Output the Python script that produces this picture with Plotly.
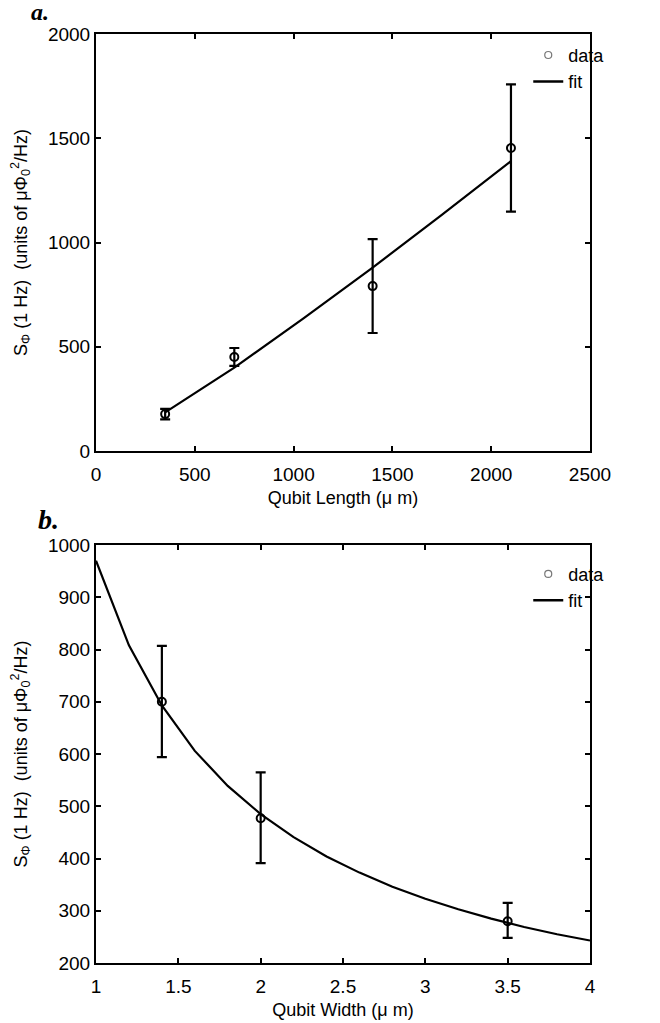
import plotly.graph_objects as go

# Panel a data
len_x = [350, 700, 1400, 2100]
len_y = [177, 451, 791, 1453]
len_err = [25, 43, 225, 305]
len_fit_x = [350, 700, 1050, 1400, 1750, 2100]
len_fit_y = [185, 400, 636, 880, 1132, 1390]

# Panel b data
wid_x = [1.4, 2.0, 3.5]
wid_y = [700, 477, 280]
wid_err_plus = [107, 88, 35]
wid_err_minus = [106, 86, 32]
wid_fit_x = [1.0, 1.2, 1.4, 1.6, 1.8, 2.0, 2.2, 2.4, 2.6, 2.8, 3.0, 3.2, 3.4, 3.6, 3.8, 4.0]
wid_fit_y = [970, 808, 693, 606, 539, 485, 441, 404, 373, 346, 323, 303, 285, 269, 255, 243]

FONT = "Liberation Sans, Arial, sans-serif"
ytitle = "S<sub>Φ</sub> (1 Hz)  (units of μΦ<sub>0</sub><sup>2</sup>/Hz)"

fig = go.Figure()

def add_panel(xs, ys, ep, em, fx, fy, xa, ya, leg):
    fig.add_trace(go.Scatter(
        x=fx, y=fy, mode="lines", line=dict(color="black", width=2.2),
        xaxis=xa, yaxis=ya, showlegend=False, hoverinfo="skip"))
    fig.add_trace(go.Scatter(
        x=xs, y=ys, mode="markers",
        marker=dict(symbol="circle-open", size=8, color="black", line=dict(width=2, color="black")),
        error_y=dict(type="data", array=ep, arrayminus=em, thickness=2.2, width=5, color="black"),
        xaxis=xa, yaxis=ya, showlegend=False))
    # legend entries
    fig.add_trace(go.Scatter(
        x=[None], y=[None], mode="markers", name="data",
        marker=dict(symbol="circle-open", size=7, color="#777", line=dict(width=1.2, color="#777")),
        xaxis=xa, yaxis=ya, legend=leg))
    fig.add_trace(go.Scatter(
        x=[None], y=[None], mode="lines", name="fit",
        line=dict(color="black", width=2.5),
        xaxis=xa, yaxis=ya, legend=leg))

add_panel(len_x, len_y, len_err, len_err, len_fit_x, len_fit_y, "x", "y", "legend")
add_panel(wid_x, wid_y, wid_err_plus, wid_err_minus, wid_fit_x, wid_fit_y, "x2", "y2", "legend2")

axis_common = dict(
    showline=True, linecolor="black", linewidth=2, mirror="allticks",
    ticks="inside", ticklen=5, tickwidth=1.5, tickcolor="black",
    showgrid=False, zeroline=False, automargin=False,
    tickfont=dict(family=FONT, size=19, color="black"),
)
title_font = dict(family=FONT, size=18, color="black")

fig.update_layout(
    width=652, height=1015,
    paper_bgcolor="white", plot_bgcolor="white",
    margin=dict(l=88, r=70, t=26, b=60),
    font=dict(family=FONT, color="black"),
    xaxis=dict(domain=[0, 1], range=[0, 2500], dtick=500, anchor="y", ticklabelstandoff=5,
               title=dict(text="Qubit Length (μ m)", standoff=8, font=title_font), **axis_common),
    yaxis=dict(domain=[0.5511, 1], range=[0, 2000], dtick=500, anchor="x",
               title=dict(text=ytitle, standoff=18, font=title_font), **axis_common),
    xaxis2=dict(domain=[0, 1], range=[1, 4], dtick=0.5, anchor="y2", ticklabelstandoff=5,
                title=dict(text="Qubit Width (μ m)", standoff=8, font=title_font), **axis_common),
    yaxis2=dict(domain=[0, 0.4499], range=[200, 1000], dtick=100, anchor="x2",
                title=dict(text=ytitle, standoff=18, font=title_font), **axis_common),
    legend=dict(x=0.875, y=0.997, xanchor="left", yanchor="top",
                bgcolor="rgba(0,0,0,0)", font=dict(family=FONT, size=18),
                tracegroupgap=0, itemwidth=30),
    legend2=dict(x=0.875, y=0.4384, xanchor="left", yanchor="top",
                 bgcolor="rgba(0,0,0,0)", font=dict(family=FONT, size=18),
                 tracegroupgap=0, itemwidth=30),
    annotations=[
        dict(text="<b><i>a.</i></b>", x=-0.135, y=1.0236, xref="paper", yref="paper",
             xanchor="left", yanchor="middle", showarrow=False,
             font=dict(family="Liberation Serif, Times New Roman, serif", size=24)),
        dict(text="<b><i>b.</i></b>", x=-0.121, y=0.477, xref="paper", yref="paper",
             xanchor="left", yanchor="middle", showarrow=False,
             font=dict(family="Liberation Serif, Times New Roman, serif", size=28)),
    ],
)

fig.write_html("out.html")
